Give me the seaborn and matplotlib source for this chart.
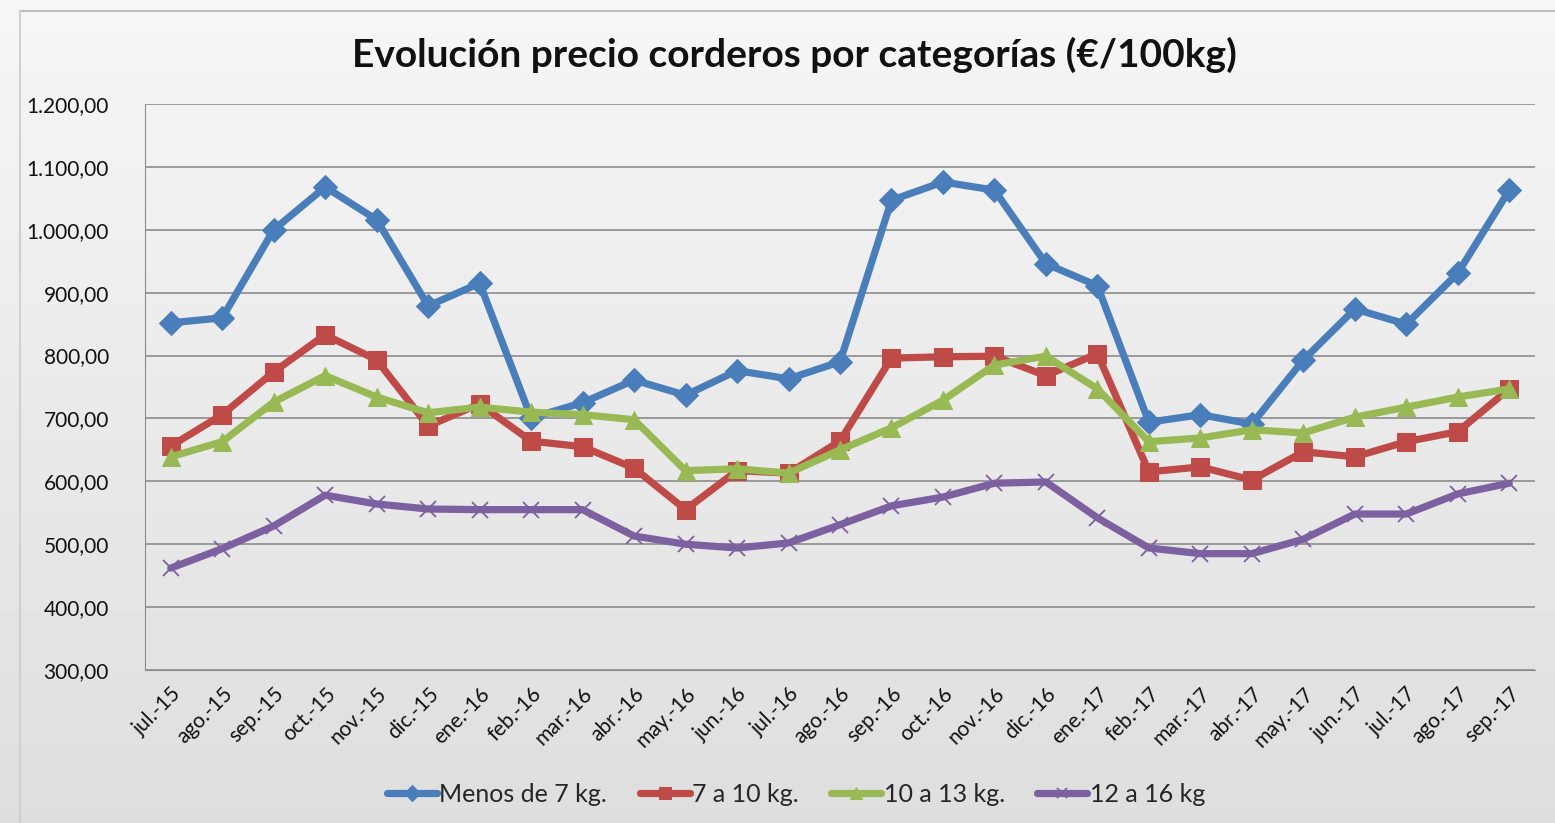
import numpy as np
import pandas as pd
import matplotlib
matplotlib.use("Agg")
import matplotlib.pyplot as plt
import seaborn as sns

months = ["jul.-15", "ago.-15", "sep.-15", "oct.-15", "nov.-15", "dic.-15",
          "ene.-16", "feb.-16", "mar.-16", "abr.-16", "may.-16", "jun.-16",
          "jul.-16", "ago.-16", "sep.-16", "oct.-16", "nov.-16", "dic.-16",
          "ene.-17", "feb.-17", "mar.-17", "abr.-17", "may.-17", "jun.-17",
          "jul.-17", "ago.-17", "sep.-17"]

menos_7 = [852, 860, 1000, 1068, 1016, 879, 915, 701, 725, 761, 737, 776, 763, 790,
           1047, 1076, 1063, 946, 911, 694, 706, 691, 793, 874, 850, 931, 1063]
de_7_10 = [656, 706, 774, 833, 793, 688, 723, 664, 655, 621, 555, 617, 613, 664,
           796, 798, 799, 768, 803, 615, 623, 602, 647, 639, 663, 679, 747]
de_10_13 = [639, 663, 726, 768, 734, 709, 718, 710, 706, 698, 617, 620, 613, 650,
            685, 729, 785, 799, 747, 663, 669, 682, 677, 702, 718, 734, 747]
de_12_16 = [462, 493, 529, 578, 564, 556, 555, 555, 555, 513, 500, 494, 502, 531,
            561, 575, 597, 599, 542, 494, 485, 485, 508, 548, 548, 580, 597]

series = {
    "Menos de 7 kg.": (menos_7, "#4a7ebb", "D", 12),
    "7 a 10 kg.": (de_7_10, "#be4b48", "s", 13),
    "10 a 13 kg.": (de_10_13, "#98b954", "^", 13),
    "12 a 16 kg": (de_12_16, "#7d60a0", "x", 11),
}


def fmt_es(v, pos=None):
    s = f"{v:,.2f}"
    return s.replace(",", "X").replace(".", ",").replace("X", ".")


sns.set_style("white")
plt.rcParams["font.family"] = ["Lato", "DejaVu Sans"]

fig = plt.figure(figsize=(15.55, 8.23), dpi=100)

# background gradient like the spreadsheet chart area
bg = fig.add_axes([0, 0, 1, 1], zorder=-10)
grad = np.linspace(0.965, 0.87, 256).reshape(-1, 1)
bg.imshow(grad, aspect="auto", cmap="gray", vmin=0, vmax=1, extent=[0, 1, 0, 1])
bg.plot([20 / 1555, 1], [1 - 11 / 823, 1 - 11 / 823], color="#bdbdbd", lw=1.5)
bg.plot([20 / 1555, 20 / 1555], [0, 1 - 11 / 823], color="#d0d0d0", lw=1.5)
bg.set_xlim(0, 1)
bg.set_ylim(0, 1)
bg.axis("off")

ax = fig.add_axes([145 / 1555, 1 - 670 / 823, 1390 / 1555, 566 / 823])
ax.set_facecolor("none")

x = np.arange(len(months))
for label, (vals, color, mk, ms) in series.items():
    df = pd.DataFrame({"x": x, "y": vals})
    kw = dict(marker=mk, markersize=ms, markeredgecolor=color)
    if mk == "x":
        kw["markeredgewidth"] = 1.3
    sns.lineplot(data=df, x="x", y="y", ax=ax, color=color, linewidth=5.2,
                 label=label, **kw)

ax.set_xlim(-0.5, len(months) - 0.5)
ax.set_ylim(300, 1200)
ax.set_yticks(np.arange(300, 1201, 100))
ax.yaxis.set_major_formatter(matplotlib.ticker.FuncFormatter(fmt_es))
ax.set_xticks(x)
ax.set_xticklabels(months, rotation=45, ha="right", rotation_mode="anchor")
ax.tick_params(axis="both", labelsize=15, length=0, colors="#111111")
ax.tick_params(axis="x", pad=10)
ax.tick_params(axis="y", pad=26)
ax.grid(axis="y", color="#8c8c8c", linewidth=1.2)
ax.set_axisbelow(True)
for side in ["top", "right"]:
    ax.spines[side].set_visible(False)
ax.spines["left"].set_color("#8c8c8c")
ax.spines["bottom"].set_color("#8c8c8c")
ax.set_xlabel("")
ax.set_ylabel("")

fig.text(0.511, 1 - 55 / 823, "Evolución precio corderos por categorías (€/100kg)",
         ha="center", va="center", fontsize=28, fontweight="bold", color="#111111")

handles, labels = ax.get_legend_handles_labels()
ax.get_legend().remove()
fig.legend(handles, labels, loc="center", bbox_to_anchor=(0.512, 1 - 794 / 823),
           ncol=4, frameon=False, fontsize=18, handlelength=2.0, handletextpad=0.1,
           columnspacing=1.3, markerscale=0.7)

fig.savefig("out.png", dpi=100)
plt.close("all")
